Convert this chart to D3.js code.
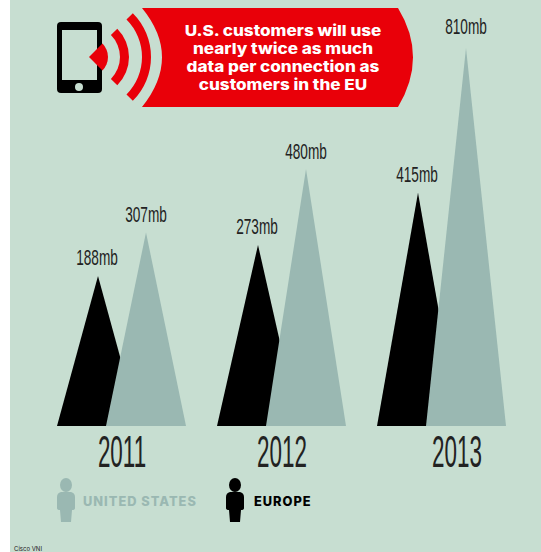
<!DOCTYPE html>
<html>
<head>
    <meta charset="utf-8">
    <title>data per connection</title>
    <script src="https://d3js.org/d3.v7.min.js"></script>
    <style>
        body { margin: 0; background: #fff; }
        svg { display: block; }
    </style>
</head>
<body>
    <div id="chart"></div>
    <script>
        // values in mb per connection
        var years = ["2011", "2012", "2013"];
        var europe = [188, 273, 415];
        var unitedStates = [307, 480, 810];
        var headline = ["U.S. customers will use", "nearly twice as much", "data per connection as", "customers in the EU"];
        var legendNames = ["UNITED STATES", "EUROPE"];
        var source = "Cisco VNI";

        var width = 541, height = 552;
        var bg = "#c7ded1", gray = "#9ab8b2", red = "#e90009", ink = "#222";
        var baseline = 426;

        var svg = d3.select("#chart").append("svg")
            .attr("width", width)
            .attr("height", height);

        svg.append("rect")
            .attr("x", 10).attr("y", 0)
            .attr("width", width - 10).attr("height", height)
            .attr("fill", bg);

        // the picture's peaks don't start from zero, the first 345 to 426 is a fixed pedestal
        var yScale = d3.scaleLinear().domain([0, 810]).range([345, 48]);
        var xScale = d3.scalePoint().domain(years).range([98, 418]);
        var usOffset = 48;

        function triangle(cx, v, half) {
            return "M" + (cx - half) + "," + baseline + "L" + cx + "," + yScale(v) + "L" + (cx + half) + "," + baseline + "Z";
        }

        // condensed text, the original uses a tall narrow poster face
        function narrow(sel, x, y, size, sx) {
            return sel.attr("transform", "translate(" + x + "," + y + ") scale(" + sx + ",1)")
                .attr("text-anchor", "middle")
                .attr("font-family", "'Liberation Sans Narrow','Liberation Sans',sans-serif")
                .attr("font-size", size)
                .attr("fill", ink);
        }

        svg.selectAll("path.eu").data(years).enter().append("path")
            .attr("class", "eu")
            .attr("d", function(d, i) { return triangle(xScale(d), europe[i], 41); })
            .attr("fill", "#000");

        svg.selectAll("path.us").data(years).enter().append("path")
            .attr("class", "us")
            .attr("d", function(d, i) { return triangle(xScale(d) + usOffset, unitedStates[i], 40); })
            .attr("fill", gray);

        years.forEach(function(y, i) {
            narrow(svg.append("text"), xScale(y) - 1, yScale(europe[i]) - 11, 22, 0.62).text(europe[i] + "mb");
            narrow(svg.append("text"), xScale(y) + usOffset, yScale(unitedStates[i]) - (i == 2 ? 14 : 10), 22, 0.62).text(unitedStates[i] + "mb");
        });

        // year labels aren't evenly spaced in the original
        var yearX = [122, 282, 457];
        years.forEach(function(y, i) {
            narrow(svg.append("text"), yearX[i], 467, 44, 0.51).text(y);
        });

        // banner
        svg.append("path")
            .attr("d", "M142,8L398,8Q428,57 398,107L142,107Q182,57 142,8Z")
            .attr("fill", red);

        svg.selectAll("text.head").data(headline).enter().append("text")
            .attr("class", "head")
            .attr("transform", function(d, i) { return "translate(283," + (36 + i * 18) + ") scale(1.14,1)"; })
            .attr("text-anchor", "middle")
            .attr("font-family", "Inter, sans-serif")
            .attr("font-weight", 800)
            .attr("font-size", 15)
            .attr("fill", "#fff")
            .text(function(d) { return d; });

        // phone
        svg.append("rect").attr("x", 57).attr("y", 22).attr("width", 45).attr("height", 71).attr("rx", 4).attr("fill", "#000");
        svg.append("rect").attr("x", 62).attr("y", 30).attr("width", 35).attr("height", 50).attr("fill", bg);
        svg.append("circle").attr("cx", 79).attr("cy", 87).attr("r", 4).attr("fill", bg);

        // signal
        var waves = [[0, 19], [31, 40], [53, 62]];
        var arc = d3.arc().startAngle(Math.PI / 4).endAngle(3 * Math.PI / 4);
        svg.selectAll("path.wave").data(waves).enter().append("path")
            .attr("class", "wave")
            .attr("transform", "translate(89,57)")
            .attr("d", function(d) { return arc({ innerRadius: d[0], outerRadius: d[1] }); })
            .attr("fill", red);

        // legend
        var person = "M-6,-6a6,7 0 1,1 12,0a6,7 0 1,1 -12,0Z" +
            "M-5,1L5,1Q9,2 9,6L9,17Q9,19 6,19L5,31L-5,31L-6,19Q-9,19 -9,17L-9,6Q-9,2 -5,1Z";
        var legendX = [66, 235];
        var legendTextX = [83, 254];
        var legendColors = [gray, "#000"];
        legendNames.forEach(function(name, i) {
            svg.append("path")
                .attr("d", person)
                .attr("transform", "translate(" + legendX[i] + ",491)")
                .attr("fill", legendColors[i]);
            svg.append("text")
                .attr("x", legendTextX[i])
                .attr("y", 506)
                .attr("font-family", "Inter, sans-serif")
                .attr("font-weight", 800)
                .attr("font-size", 12.8)
                .attr("letter-spacing", 1)
                .attr("fill", legendColors[i])
                .text(name);
        });

        svg.append("text")
            .attr("x", 14).attr("y", 551)
            .attr("font-family", "Inter, sans-serif")
            .attr("font-size", 6)
            .attr("fill", ink)
            .text(source);
    </script>
</body>
</html>
